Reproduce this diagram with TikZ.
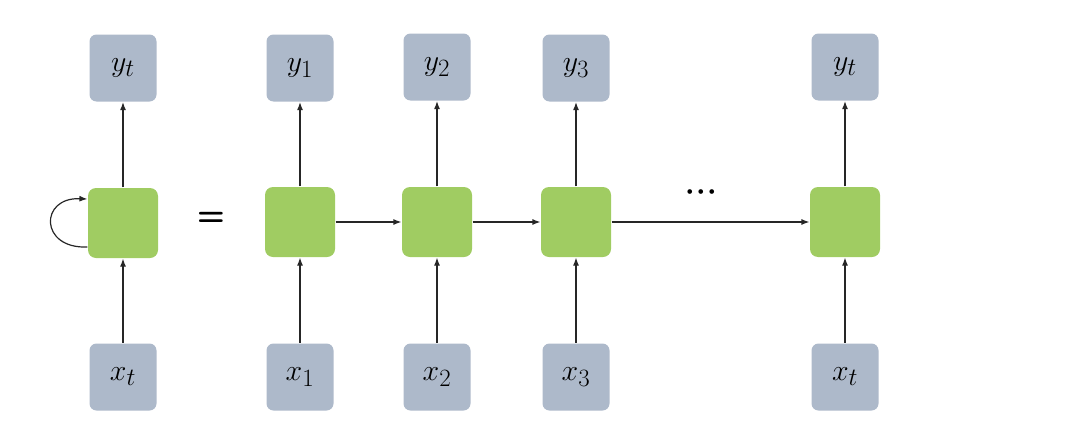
\documentclass[tikz,border=0pt]{standalone}
\usepackage{amsmath}
\usepackage{graphicx}
\usepackage{tikz}
\usetikzlibrary{arrows.meta,positioning}
\definecolor{cellgreen}{RGB}{160,204,98}
\definecolor{iogray}{RGB}{173,185,202}
\newcommand{\iolbl}[1]{\scalebox{1.2}{\Huge$#1$}}
\tikzset{
  >=Stealth,
  every picture/.append style={line width=1.2pt},
}
\tikzset{
  io/.style={draw=none, fill=iogray, rounded corners=7pt, minimum width=67pt, minimum height=67pt, inner sep=0pt},
  cell/.style={draw=none, fill=cellgreen, rounded corners=8pt, minimum width=70pt, minimum height=70pt, inner sep=0pt},
  arr/.style={-{Latex[length=8pt,width=6pt]}, line width=1.2pt, draw=black!85}
}
\begin{document}
\begin{tikzpicture}[x=1pt, y=-1pt]
\useasboundingbox (0,0) rectangle (1084,442);

% Folded view
\node[io] (ly) at (123,68) {\iolbl{y_t}};
\node[cell] (lh) at (123,223) {};
\node[io] (lx) at (123,377) {\iolbl{x_t}};
\node (eq) at (211,219) {\scalebox{1.3}{\Huge\sffamily\bfseries =}};

% Unrolled view
\node[io] (y1) at (300,68) {\iolbl{y_1}};
\node[cell] (h1) at (300,222) {};
\node[io] (x1) at (300,377) {\iolbl{x_1}};

\node[io] (y2) at (437,67) {\iolbl{y_2}};
\node[cell] (h2) at (437,222) {};
\node[io] (x2) at (437,377) {\iolbl{x_2}};

\node[io] (y3) at (576,68) {\iolbl{y_3}};
\node[cell] (h3) at (576,222) {};
\node[io] (x3) at (576,377) {\iolbl{x_3}};

\node[io] (yt) at (845,67) {\iolbl{y_t}};
\node[cell] (ht) at (845,222) {};
\node[io] (xt) at (845,377) {\iolbl{x_t}};

\node (dots) at (701,192) {\iolbl{\boldsymbol{\cdot}\!\boldsymbol{\cdot}\!\boldsymbol{\cdot}}};

% Edges: inputs and outputs
\draw[arr] (lx) -- (lh);
\draw[arr] (lh) -- (ly);
\draw[arr] (x1) -- (h1);
\draw[arr] (h1) -- (y1);
\draw[arr] (x2) -- (h2);
\draw[arr] (h2) -- (y2);
\draw[arr] (x3) -- (h3);
\draw[arr] (h3) -- (y3);
\draw[arr] (xt) -- (ht);
\draw[arr] (ht) -- (yt);

% Recurrent loop
\draw[arr] ([yshift=-24pt]lh.west) .. controls +(-48pt,-2pt) and +(-48pt,2pt) .. ([yshift=24pt]lh.west);

% Hidden state chain
\draw[arr] (h1) -- (h2);
\draw[arr] (h2) -- (h3);
\draw[arr] (h3) -- (ht);

\end{tikzpicture}
\end{document}
